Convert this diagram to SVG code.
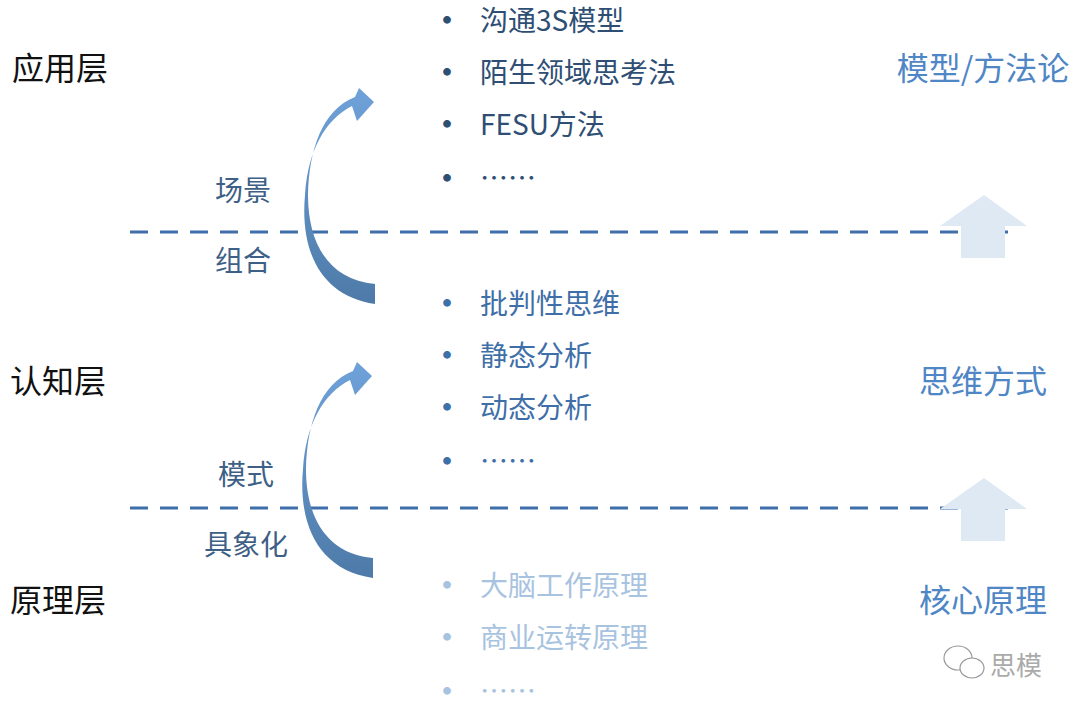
<svg xmlns="http://www.w3.org/2000/svg" width="1080" height="714" viewBox="0 0 1080 714">
<style>
text{font-family:"Noto Sans CJK SC","Noto Sans",sans-serif}
.layer{font-size:32px;fill:#111}
.li{font-size:28px}
.d{fill:#2e4e74}.m{fill:#3f6fa8}.l{fill:#a8c3e0}
.r{font-size:32px;fill:#4f86c6;text-anchor:middle}
.c{font-size:28px;fill:#3e5f86;text-anchor:middle}
.dash{stroke:#3f6fab;stroke-width:3;stroke-dasharray:18 12;fill:none}
.up{fill:#dfe9f4}
.b{font-size:30px;font-weight:bold}
</style>
<defs>
<linearGradient id="g" x1="0" y1="1" x2="0" y2="0">
<stop offset="0" stop-color="#4d7aa8"/><stop offset="1" stop-color="#6fa2da"/>
</linearGradient>
<path id="curve" d="M375,304 C320,296 300,250 305,195 C308,150 325,120 352,106 L357,121 L374,102 L359,88 L355,97 C322,110 309,150 308,195 C308,245 330,280 375,284 Z" fill="url(#g)"/>
</defs>
<rect width="1080" height="714" fill="#fff"/>
<g id="connectors">
<line class="dash" x1="130" y1="232" x2="1008" y2="232"/>
<line class="dash" x1="130" y1="508" x2="1008" y2="508"/>
<use href="#curve"/>
<use href="#curve" transform="translate(-2,274)"/>
</g>
<g id="up1"><path class="up" d="M984,195 L1027,226 L1005,226 L1005,258 L961,258 L961,226 L940,226 Z"/></g>
<g id="up2"><path class="up" d="M984,478 L1027,509 L1005,509 L1005,541 L961,541 L961,509 L940,509 Z"/></g>
<g id="layers">
<text class="layer" x="12" y="80">应用层</text>
<text class="layer" x="10" y="393">认知层</text>
<text class="layer" x="10" y="612">原理层</text>
</g>
<g id="edgelabels">
<text class="c" x="243" y="201">场景</text>
<text class="c" x="243" y="271">组合</text>
<text class="c" x="246" y="485">模式</text>
<text class="c" x="246" y="555">具象化</text>
</g>
<g id="list1" class="li d">
<text class="b" x="432" y="31">•</text><text x="480" y="31">沟通3S模型</text>
<text class="b" x="432" y="83">•</text><text x="480" y="83">陌生领域思考法</text>
<text class="b" x="432" y="135">•</text><text x="480" y="135">FESU方法</text>
<text class="b" x="432" y="189">•</text><text x="480" y="189">……</text>
</g>
<g id="list2" class="li m">
<text class="b" x="432" y="314">•</text><text x="480" y="314">批判性思维</text>
<text class="b" x="432" y="366">•</text><text x="480" y="366">静态分析</text>
<text class="b" x="432" y="418">•</text><text x="480" y="418">动态分析</text>
<text class="b" x="432" y="472">•</text><text x="480" y="472">……</text>
</g>
<g id="list3" class="li l">
<text class="b" x="432" y="596">•</text><text x="480" y="596">大脑工作原理</text>
<text class="b" x="432" y="648">•</text><text x="480" y="648">商业运转原理</text>
<text class="b" x="432" y="702">•</text><text x="480" y="702">……</text>
</g>
<g id="right">
<text class="r" x="983" y="80">模型/方法论</text>
<text class="r" x="983" y="393">思维方式</text>
<text class="r" x="983" y="612">核心原理</text>
</g>
<g id="logo" fill="none" stroke="#999" stroke-width="1.2">
<ellipse cx="958" cy="658" rx="14" ry="12"/>
<ellipse cx="972" cy="668" rx="12" ry="10" fill="#fff"/>
<text x="990" y="675" font-size="26" fill="#aaa" stroke="none">思模</text>
</g>
</svg>
